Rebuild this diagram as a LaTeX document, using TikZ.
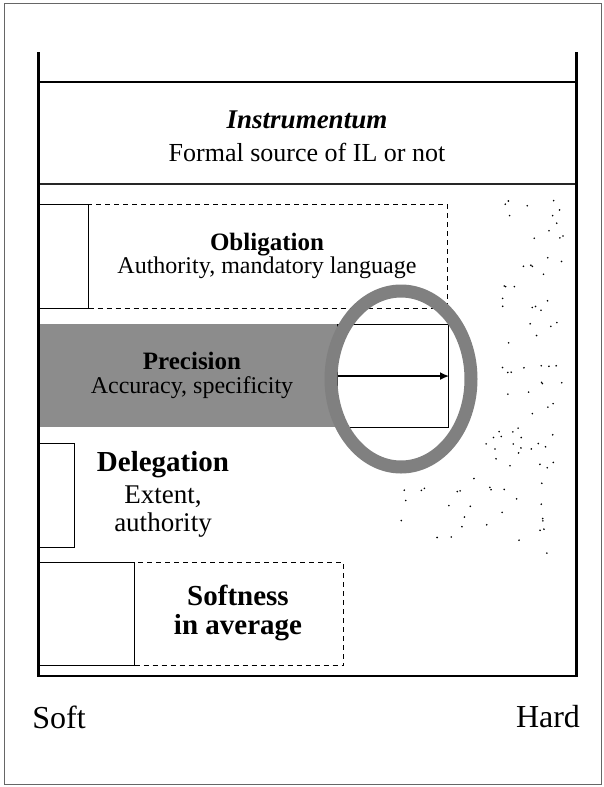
\documentclass[tikz,border=0pt]{standalone}
\usepackage{fontspec}
\setmainfont{Liberation Serif}
\usetikzlibrary{arrows.meta}
\begin{document}
\begin{tikzpicture}[x=1pt,y=-1pt,
  outerframe/.style={draw=black!60, line width=0.9pt},
  post/.style={line width=3pt},
  rule/.style={line width=1.4pt},
  solidbox/.style={draw, line width=1.1pt, inner sep=0pt, anchor=north west},
  dashbox/.style={draw, line width=1.2pt, dash pattern=on 5pt off 4pt, inner sep=0pt, anchor=north west},
  band/.style={fill=black!45},
  lens/.style={draw=black!50, line width=13pt},
  speck/.style={fill=black},
  head/.style={font=\fontsize{25}{28}\selectfont\bfseries},
  body/.style={font=\fontsize{24}{27}\selectfont},
  bighead/.style={font=\fontsize{29}{32}\selectfont\bfseries},
  bigbody/.style={font=\fontsize{27}{30}\selectfont},
  axislabel/.style={font=\fontsize{32}{36}\selectfont},
]
\useasboundingbox (0,0) rectangle (604,787);
\draw[outerframe] (4,3) rectangle (601,784);

% Instrumentum strip
\draw[rule] (38.5,82) -- (576.5,82);
\draw[line width=2pt, black!85] (38.5,184) -- (576.5,184);
\node[font=\fontsize{27}{30}\selectfont\bfseries\itshape] (instr) at (307,120) {Instrumentum};
\node[font=\fontsize{26}{29}\selectfont] (instrsub) at (307,152) {Formal source of IL or not};

% Obligation row
\node[solidbox, minimum width=49.5pt, minimum height=104pt] (obltab) at (38.5,204) {};
\node[dashbox, minimum width=359pt, minimum height=104pt] (oblig) at (88,204) {};
\node[head] (oblt) at (267,245) {Obligation};
\node[body] (obls) at (267,268) {Authority, mandatory language};

% Precision row
\fill[band] (38.5,324) rectangle (337,427);
\node[solidbox, fill=white, minimum width=111pt, minimum height=103pt] (prewin) at (337,324) {};
\draw[line width=1.8pt, -{Latex[length=9pt,width=8pt]}] (prewin.west) -- (prewin.east);
\node[head] (pret) at (192,361) {Precision};
\node[body] (pres) at (192,388) {Accuracy, specificity};

% magnifying ring around the precision window
\draw[lens] (401,379) ellipse [x radius=70pt, y radius=88pt];

% Delegation row
\node[solidbox, minimum width=35.5pt, minimum height=104pt] (deltab) at (38.5,443) {};
\node[bighead] (delt) at (163,465) {Delegation};
\node[bigbody] (dels1) at (163,497) {Extent,};
\node[bigbody] (dels2) at (163,525) {authority};

% Softness row
\node[solidbox, minimum width=95.5pt, minimum height=103pt] (softab) at (38.5,562) {};
\node[dashbox, minimum width=209pt, minimum height=103pt] (softbox) at (134,562) {};
\node[bighead] (soft1) at (238,595) {Softness};
\node[bighead] (soft2) at (238,628) {in average};

% side posts and base
\draw[post] (38.5,52) -- (38.5,677);
\draw[post] (576.5,52) -- (576.5,677);
\draw[line width=2.6pt] (38.5,676) -- (576.5,676);

% scale ends
\node[axislabel] (lsoft) at (59,717) {Soft};
\node[axislabel] (lhard) at (548,717) {Hard};

% scattered specks on the hard side
\pgfmathsetseed{4}
\foreach \k in {1,...,45}{
  \pgfmathsetmacro{\px}{494+70*rnd}
  \pgfmathsetmacro{\py}{200+205*rnd}
  \fill[speck] (\px,\py) circle[radius=0.9pt];
}
\foreach \k in {1,...,22}{
  \pgfmathsetmacro{\px}{486+78*rnd}
  \pgfmathsetmacro{\py}{405+65*rnd}
  \fill[speck] (\px,\py) circle[radius=0.9pt];
}
\foreach \k in {1,...,28}{
  \pgfmathsetmacro{\px}{400+165*rnd}
  \pgfmathsetmacro{\py}{478+80*rnd}
  \fill[speck] (\px,\py) circle[radius=0.9pt];
}
\end{tikzpicture}
\end{document}
